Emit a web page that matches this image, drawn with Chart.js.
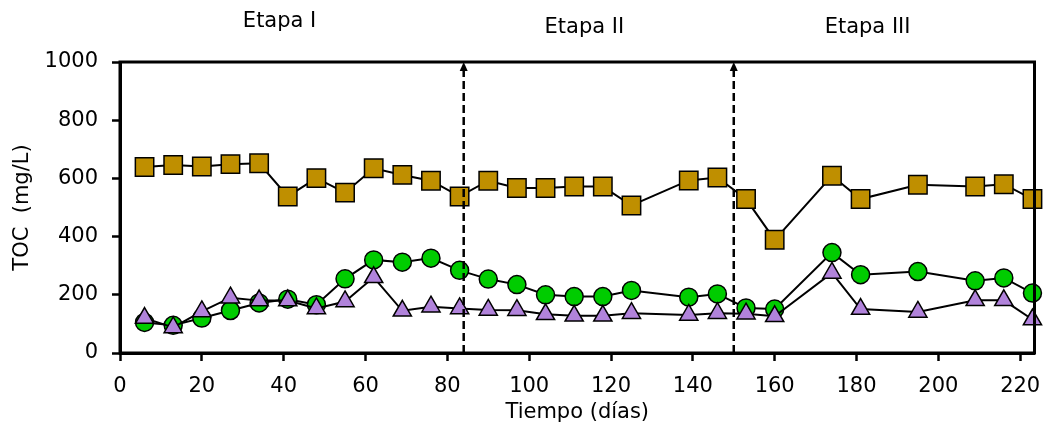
<!DOCTYPE html>
<html>
<head>
<meta charset="utf-8">
<script src="https://cdn.jsdelivr.net/npm/chart.js@4"></script>
<style>
  html, body { margin:0; padding:0; background:#fff; }
  #wrap { width:1049px; height:430px; }
</style>
</head>
<body>
<div id="wrap"><canvas id="tocChart" width="1049" height="430"></canvas></div>
<script>
/* sampling days */
const days = [6,13,20,27,34,41,48,55,62,69,76,83,90,97,104,111,118,125,139,146,153,160,174,181,195,209,216,223];

/* TOC values (mg/L) */
const tocSquares   = [639,646,641,649,652,538,601,551,635,612,592,538,592,567,567,572,572,507,593,603,529,389,609,529,578,572,580,529];
const tocCircles   = [105,95,120,146,172,185,166,255,320,312,326,284,254,235,200,194,194,215,192,203,155,151,345,269,280,248,258,206];
const tocTriangles = [120,88,143,190,180,180,153,177,260,145,159,153,148,147,133,128,128,137,131,137,135,126,275,151,141,181,181,115];

/* stage boundaries (days) and stage names */
const stageLimits = [84,150];
const stageNames = ["Etapa I","Etapa II","Etapa III"];

const FONT = "'DejaVu Sans', sans-serif";
const FSIZE = 21;

function toPoints(vals){
    return days.map((d,i) => ({x:d, y:vals[i]}));
}

/* frame, dashed stage lines with arrows and stage names */
const decorPlugin = {
    id:'decor',
    afterDatasetsDraw(chart){
        const ctx = chart.ctx;
        const a = chart.chartArea;
        const xs = chart.scales.x;

        ctx.save();
        // dashed stage limits
        ctx.strokeStyle = '#000';
        ctx.fillStyle = '#000';
        ctx.lineWidth = 2.5;
        stageLimits.forEach(d => {
            const px = xs.getPixelForValue(d);
            ctx.setLineDash([8,4]);
            ctx.beginPath();
            ctx.moveTo(px, a.bottom);
            ctx.lineTo(px, a.top + 8);
            ctx.stroke();
            ctx.setLineDash([]);
            ctx.beginPath();
            ctx.moveTo(px, a.top);
            ctx.lineTo(px - 4, a.top + 9);
            ctx.lineTo(px + 4, a.top + 9);
            ctx.closePath();
            ctx.fill();
        });

        // frame
        ctx.lineWidth = 3;
        ctx.strokeRect(a.left, a.top, a.right - a.left, a.bottom - a.top);

        // stage names
        ctx.font = FSIZE + "px " + FONT;
        ctx.textAlign = 'center';
        ctx.textBaseline = 'middle';
        const nameX = [39, 113.5, 182.7];
        const nameY = [22, 28, 28];
        stageNames.forEach((s,i) => {
            ctx.fillText(s, xs.getPixelForValue(nameX[i]), nameY[i]);
        });
        ctx.restore();
    }
};

new Chart(document.getElementById('tocChart'), {
    type:'line',
    data:{
        datasets:[
            {
                label:'squares',
                data:toPoints(tocSquares),
                borderColor:'#000',
                borderWidth:2,
                pointStyle:'rect',
                pointRadius:13,
                pointBackgroundColor:'#BF8F00',
                pointBorderColor:'#000',
                pointBorderWidth:1.5,
                tension:0,
                clip:false,
                order:0
            },
            {
                label:'circles',
                data:toPoints(tocCircles),
                borderColor:'#000',
                borderWidth:2,
                pointStyle:'circle',
                pointRadius:9,
                pointBackgroundColor:'#00CC00',
                pointBorderColor:'#000',
                pointBorderWidth:1.5,
                tension:0,
                clip:false,
                order:2
            },
            {
                label:'triangles',
                data:toPoints(tocTriangles),
                borderColor:'#000',
                borderWidth:2,
                pointStyle:'triangle',
                pointRadius:10.5,
                pointBackgroundColor:'#B183DB',
                pointBorderColor:'#000',
                pointBorderWidth:1.5,
                tension:0,
                clip:false,
                order:1
            }
        ]
    },
    options:{
        responsive:false,
        animation:false,
        devicePixelRatio:1,
        layout:{ padding:{ top:62, right:14, left:0, bottom:0 } },
        plugins:{
            legend:{display:false},
            tooltip:{enabled:false}
        },
        scales:{
            x:{
                type:'linear',
                min:0,
                max:223.5,
                afterFit:(s) => { s.height = 77; s.paddingLeft = 0; s.paddingRight = 0; },
                ticks:{
                    stepSize:20,
                    includeBounds:false,
                    color:'#000',
                    font:{family:FONT, size:FSIZE},
                    padding:13,
                    maxRotation:0,
                    callback:(v) => String(v)
                },
                grid:{
                    drawOnChartArea:false,
                    tickLength:8,
                    tickWidth:2.5,
                    tickColor:'#000'
                },
                border:{color:'#000', width:3},
                title:{
                    display:true,
                    text:'Tiempo (días)',
                    color:'#000',
                    font:{family:FONT, size:FSIZE},
                    padding:{top:0, bottom:5}
                }
            },
            y:{
                min:0,
                max:1000,
                afterFit:(s) => { s.width = 120; s.paddingTop = 0; s.paddingBottom = 0; },
                ticks:{
                    stepSize:200,
                    color:'#000',
                    font:{family:FONT, size:FSIZE},
                    padding:14,
                    callback:(v) => String(v)
                },
                grid:{
                    drawOnChartArea:false,
                    tickLength:8,
                    tickWidth:2.5,
                    tickColor:'#000'
                },
                border:{color:'#000', width:3},
                title:{
                    display:true,
                    text:'TOC  (mg/L)',
                    color:'#000',
                    font:{family:FONT, size:FSIZE},
                    padding:{top:10, bottom:0}
                }
            }
        }
    },
    plugins:[decorPlugin]
});
</script>
</body>
</html>
